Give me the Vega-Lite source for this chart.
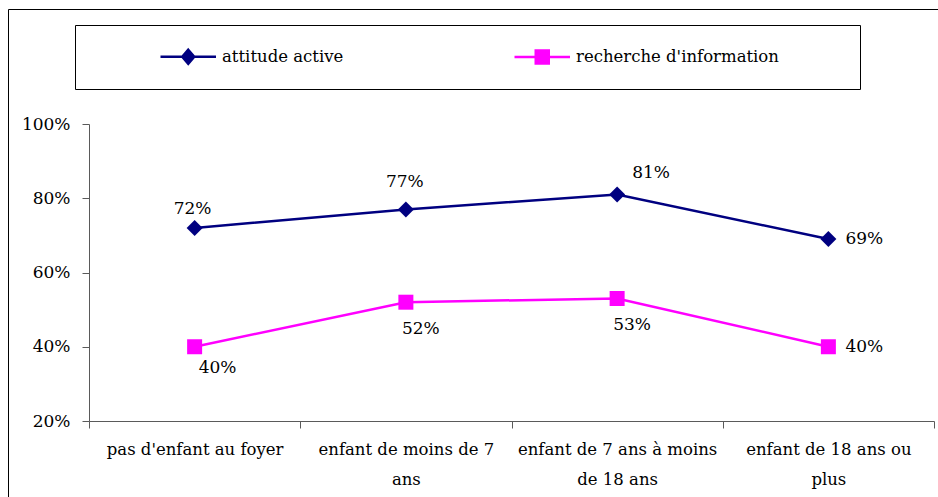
{
  "$schema": "https://vega.github.io/schema/vega-lite/v6.json",
  "width": 930,
  "height": 488,
  "autosize": {"type": "none"},
  "padding": {"left": 8, "top": 9, "right": 0, "bottom": 0},
  "background": "white",
  "config": {"view": {"stroke": "black", "strokeWidth": 1}, "font": "DejaVu Serif"},
  "data": {"values": [
    {"cat": "pas d'enfant au foyer", "series": "attitude active", "value": 0.72},
    {"cat": "enfant de moins de 7 ans", "series": "attitude active", "value": 0.77},
    {"cat": "enfant de 7 ans à moins de 18 ans", "series": "attitude active", "value": 0.81},
    {"cat": "enfant de 18 ans ou plus", "series": "attitude active", "value": 0.69},
    {"cat": "pas d'enfant au foyer", "series": "recherche d'information", "value": 0.40},
    {"cat": "enfant de moins de 7 ans", "series": "recherche d'information", "value": 0.52},
    {"cat": "enfant de 7 ans à moins de 18 ans", "series": "recherche d'information", "value": 0.53},
    {"cat": "enfant de 18 ans ou plus", "series": "recherche d'information", "value": 0.40}
  ]},
  "encoding": {
    "x": {
      "field": "cat", "type": "nominal",
      "sort": ["pas d'enfant au foyer", "enfant de moins de 7 ans", "enfant de 7 ans à moins de 18 ans", "enfant de 18 ans ou plus"],
      "scale": {"type": "band", "range": [81, 926], "paddingInner": 0, "paddingOuter": 0},
      "axis": {
        "title": null, "offset": -76, "tickBand": "extent", "tickSize": 7,
        "domainColor": "#5a5a5a", "tickColor": "#5a5a5a", "labelAngle": 0,
        "labelFont": "DejaVu Serif", "labelFontSize": 16.5, "labelColor": "black",
        "labelPadding": 13, "labelLineHeight": 30, "labelLimit": 0, "labelOverlap": false,
        "labelExpr": "datum.label === 'enfant de moins de 7 ans' ? ['enfant de moins de 7', 'ans'] : datum.label === 'enfant de 7 ans à moins de 18 ans' ? ['enfant de 7 ans à moins', 'de 18 ans'] : datum.label === 'enfant de 18 ans ou plus' ? ['enfant de 18 ans ou', 'plus'] : datum.label"
      }
    },
    "y": {
      "field": "value", "type": "quantitative",
      "scale": {"domain": [0.2, 1], "range": [412, 115], "nice": false, "zero": false},
      "axis": {
        "title": null, "offset": -81, "values": [0.2, 0.4, 0.6, 0.8, 1.0], "format": ".0%",
        "grid": false, "tickSize": 7, "domainColor": "#5a5a5a", "tickColor": "#5a5a5a",
        "labelFont": "DejaVu Serif", "labelFontSize": 17, "labelColor": "black", "labelPadding": 12
      }
    },
    "color": {
      "field": "series", "type": "nominal",
      "scale": {"domain": ["attitude active", "recherche d'information"], "range": ["#000080", "#FF00FF"]},
      "legend": {
        "orient": "none", "legendX": 67, "legendY": 16, "direction": "horizontal",
        "title": "\u2800\u2800\u2800\u2800",
        "titleOrient": "left", "titleFont": "DejaVu Sans", "titleFontSize": 19, "titlePadding": 5,
        "padding": 20, "strokeColor": "black", "fillColor": "white",
        "labelFont": "DejaVu Serif", "labelFontSize": 16.5, "labelColor": "black", "labelLimit": 500,
        "labelOffset": 39, "columnPadding": 165, "symbolSize": 400,
        "labelExpr": "datum.label === \"recherche d'information\" ? datum.label + '\u2800\u2800\u2800\u2800\u2800' : datum.label",
        "encode": {
          "symbols": {
            "update": {
              "shape": {"signal": "datum.value === 'attitude active' ? 'M-1.1,0H4.45M1.675,-0.7L2.275,0L1.675,0.7L1.075,0Z' : 'M-1.1,0H4.45M1.025,-0.65H2.325V0.65H1.025Z'"},
              "fill": {"scale": "color", "field": "value"},
              "stroke": {"scale": "color", "field": "value"},
              "strokeWidth": {"value": 2.5},
              "size": {"value": 400},
              "opacity": {"value": 1}
            }
          }
        }
      }
    }
  },
  "layer": [
    {"mark": {"type": "line", "strokeWidth": 2.5}},
    {
      "transform": [{"filter": {"field": "series", "equal": "attitude active"}}],
      "mark": {"type": "point", "filled": true, "opacity": 1, "size": 256, "shape": "diamond"}
    },
    {
      "transform": [{"filter": {"field": "series", "equal": "recherche d'information"}}],
      "mark": {"type": "point", "filled": true, "opacity": 1, "size": 225, "shape": "square"}
    },
    {
      "transform": [{"filter": {"and": [{"field": "series", "equal": "attitude active"}, {"field": "cat", "equal": "pas d'enfant au foyer"}]}}],
      "mark": {"type": "text", "font": "DejaVu Serif", "fontSize": 17, "dx": -2, "dy": -19},
      "encoding": {"text": {"field": "value", "type": "quantitative", "format": ".0%"}, "color": {"value": "black"}}
    },
    {
      "transform": [{"filter": {"and": [{"field": "series", "equal": "attitude active"}, {"field": "cat", "equal": "enfant de moins de 7 ans"}]}}],
      "mark": {"type": "text", "font": "DejaVu Serif", "fontSize": 17, "dx": -1, "dy": -27},
      "encoding": {"text": {"field": "value", "type": "quantitative", "format": ".0%"}, "color": {"value": "black"}}
    },
    {
      "transform": [{"filter": {"and": [{"field": "series", "equal": "attitude active"}, {"field": "cat", "equal": "enfant de 7 ans à moins de 18 ans"}]}}],
      "mark": {"type": "text", "font": "DejaVu Serif", "fontSize": 17, "dx": 34, "dy": -22},
      "encoding": {"text": {"field": "value", "type": "quantitative", "format": ".0%"}, "color": {"value": "black"}}
    },
    {
      "transform": [{"filter": {"field": "cat", "equal": "enfant de 18 ans ou plus"}}],
      "mark": {"type": "text", "font": "DejaVu Serif", "fontSize": 17, "align": "left", "dx": 17, "dy": 0},
      "encoding": {"text": {"field": "value", "type": "quantitative", "format": ".0%"}, "color": {"value": "black"}}
    },
    {
      "transform": [{"filter": {"and": [{"field": "series", "equal": "recherche d'information"}, {"field": "cat", "equal": "pas d'enfant au foyer"}]}}],
      "mark": {"type": "text", "font": "DejaVu Serif", "fontSize": 17, "dx": 23, "dy": 21},
      "encoding": {"text": {"field": "value", "type": "quantitative", "format": ".0%"}, "color": {"value": "black"}}
    },
    {
      "transform": [{"filter": {"and": [{"field": "series", "equal": "recherche d'information"}, {"field": "cat", "oneOf": ["enfant de moins de 7 ans", "enfant de 7 ans à moins de 18 ans"]}]}}],
      "mark": {"type": "text", "font": "DejaVu Serif", "fontSize": 17, "dx": 15, "dy": 27},
      "encoding": {"text": {"field": "value", "type": "quantitative", "format": ".0%"}, "color": {"value": "black"}}
    }
  ]
}
